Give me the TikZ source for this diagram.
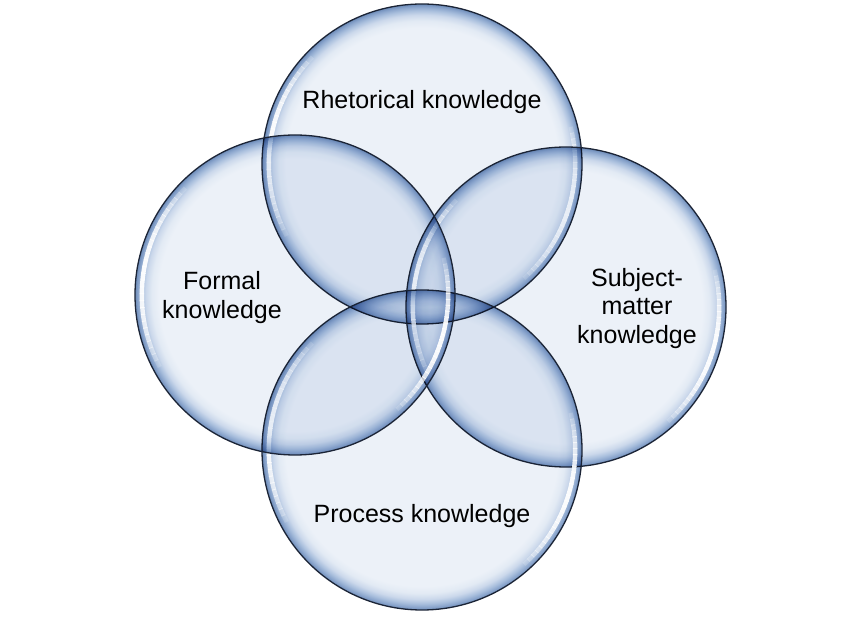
\documentclass[tikz,border=0pt]{standalone}
\usepackage{fontspec}
\setmainfont{Liberation Sans}
\definecolor{bin}{HTML}{ECF1F8}
\definecolor{bone}{HTML}{E2EAF4}
\definecolor{btwo}{HTML}{CBD8EB}
\definecolor{bthree}{HTML}{A9BFDD}
\definecolor{bfour}{HTML}{88A3CB}
\definecolor{bedge}{HTML}{6C8BB8}
\definecolor{outl}{HTML}{1B2436}
\pgfdeclareradialshading{bubble}{\pgfpoint{0bp}{0bp}}{color(0bp)=(bin); color(21.3bp)=(bin); color(22.4bp)=(bone); color(23.3bp)=(btwo); color(24bp)=(bthree); color(24.6bp)=(bfour); color(25bp)=(bedge); color(50bp)=(bedge)}
\tikzset{
  bubblefill/.style={shading=bubble, blend mode=multiply},
  bubbleline/.style={draw=outl, line width=1.3pt},
  lab/.style={inner sep=0pt, align=center, text=black, font=\fontsize{25}{28.5}\selectfont},
}
\newcommand\glossarc[4]{% center, start, span, peak opacity
  \foreach \k in {0,...,27}{
    \pgfmathsetmacro\aa{#2+\k*#3/28}
    \pgfmathsetmacro\oo{#4*sin(180*(\k+0.5)/28)^0.6}
    \draw[white, line width=4.4pt, line cap=butt, opacity=\oo, shift={(#1)}]
      (\aa:153.2) arc[start angle=\aa, end angle=\aa+#3/28+0.3, radius=153.2];
  }%
}
\newcommand\bubble[1]{%
  \shade[bubblefill] (#1) circle[radius=160];
  \glossarc{#1}{152}{72}{0.95}
  \glossarc{#1}{-14}{62}{0.95}
  \draw[bubbleline] (#1) circle[radius=160];
}
\begin{document}
\begin{tikzpicture}[x=1pt, y=-1pt]
  \useasboundingbox (0,0) rectangle (844,617);
  \fill[white] (0,0) rectangle (844,617);
  \coordinate (ct) at (422,164);
  \coordinate (cr) at (566,307);
  \coordinate (cb) at (422,450);
  \coordinate (cl) at (295,295);
  \bubble{ct}
  \bubble{cr}
  \bubble{cb}
  \bubble{cl}
  \node[lab] (tR) at (422,102.5) {Rhetorical knowledge};
  \node[lab] (tF) at (222,297.5) {Formal\\knowledge};
  \node[lab] (tS) at (637,308.5) {Subject-\\matter\\knowledge};
  \node[lab] (tP) at (422,516.5) {Process knowledge};
\end{tikzpicture}
\end{document}
